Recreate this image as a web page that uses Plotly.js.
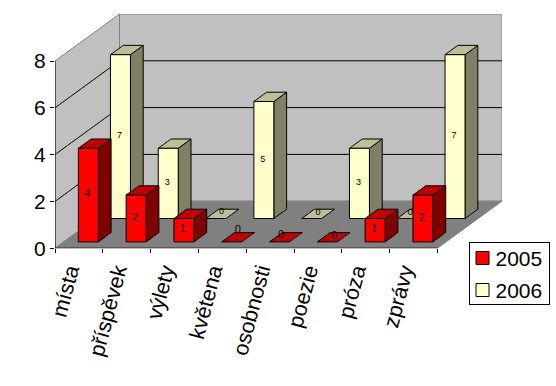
<!DOCTYPE html>
<html>
<head>
<meta charset="utf-8">
<script src="https://cdn.plot.ly/plotly-3.0.1.min.js"></script>
<style>html,body{margin:0;padding:0;background:#fff}</style>
</head>
<body>
<div id="chart" style="width:556px;height:386px"></div>
<script>
const categories = ['místa','příspěvek','výlety','květena','osobnosti','poezie','próza','zprávy'];
const values2005 = [4,2,1,0,0,0,1,2];
const values2006 = [7,3,0,5,0,3,0,7];
const yTicks = [0,2,4,6,8];
const gridValues = [2,4,6];
const FONT = '"Liberation Sans", Arial, sans-serif';

// Oblique projection of the chart box, in axis units
const W = 556, H = 386;
const LEFT = 55, TOP = 14;
const pxX = 47.8, pxY = 23.4, depthX = 64.5, depthY = 47;
const DX = depthX / pxX, DY = depthY / pxY;
const XMAX = 8 + DX, YMAX = 8 + DY;
const BAR_LEFT = 0.3075, BAR_W = 0.418, BAR_D = 0.198;
const pt = (c, v, d) => [c + d * DX, v + d * DY];

const traces = [];
function poly(points, fill, line, lw) {
  const closed = points.concat([points[0]]);
  traces.push({
    type: 'scatter', mode: 'lines', x: closed.map(p => p[0]), y: closed.map(p => p[1]),
    fill: 'toself', fillcolor: fill, line: {color: line, width: lw === undefined ? 1 : lw},
    hoverinfo: 'skip', showlegend: false, cliponaxis: false
  });
}
function seg(points, color) {
  traces.push({
    type: 'scatter', mode: 'lines', x: points.map(p => p[0]), y: points.map(p => p[1]),
    line: {color: color, width: 1}, hoverinfo: 'skip', showlegend: false, cliponaxis: false
  });
}

// Walls and floor
const WALL = '#C0C0C0', EDGE = '#808080';
poly([pt(0,0,0), pt(0,8,0), pt(0,8,1), pt(0,0,1)], WALL, EDGE);
poly([pt(0,0,1), pt(0,8,1), pt(8,8,1), pt(8,0,1)], WALL, EDGE);
poly([pt(0,0,0), pt(8,0,0), pt(8,0,1), pt(0,0,1)], '#808080', EDGE);
gridValues.forEach(v => seg([pt(0,v,0), pt(0,v,1), pt(8,v,1)], '#000'));

function bars(values, d0, front, top, side) {
  values.forEach((v, i) => {
    const a = i + BAR_LEFT, b = a + BAR_W, d1 = d0 + BAR_D;
    if (v > 0) {
      poly([pt(b,0,d0), pt(b,v,d0), pt(b,v,d1), pt(b,0,d1)], side, '#000');
    }
    poly([pt(a,v,d0), pt(b,v,d0), pt(b,v,d1), pt(a,v,d1)], top, '#000');
    if (v > 0) {
      poly([pt(a,0,d0), pt(b,0,d0), pt(b,v,d0), pt(a,v,d0)], front, '#000');
    }
  });
}
function labels(values, d0, size, zeroNudge) {
  let z = 0;
  const xs = [], ys = [];
  values.forEach((v, i) => {
    const p = pt(i + BAR_LEFT + BAR_W / 2, v / 2, d0);
    if (v === 0) { const n = zeroNudge[z++]; xs.push(p[0] + n[0] / pxX); ys.push(p[1] + n[1] / pxY); }
    else { xs.push(p[0] - 1 / pxX); ys.push(p[1] + 0.5 / pxY); }
  });
  traces.push({
    type: 'scatter', mode: 'text', x: xs, y: ys, text: values.map(String),
    textposition: 'middle center', textfont: {family: FONT, size: size, color: '#000'},
    hoverinfo: 'skip', showlegend: false, cliponaxis: false
  });
}

const D_2006 = 0.632, D_2005 = 0.134;
bars(values2006, D_2006, '#FFFFCC', '#BEBE98', '#808066');
labels(values2006, D_2006, 9, [[5.4,6.3],[6.3,5.3],[3,6]]);
bars(values2005, D_2005, '#FF0000', '#BF0000', '#800000');
labels(values2005, D_2005, 11, [[6,11.7],[1.5,6.7],[7,5.7]]);

// Axis lines
seg([pt(0,8,0), pt(0,0,0), pt(8,0,0)], '#000');

// Legend entries
[['2005','#FF0000'],['2006','#FFFFCC']].forEach(([name, color]) => {
  traces.push({
    type: 'scatter', mode: 'markers', x: [null], y: [null], name: name,
    marker: {symbol: 'square', size: 13, color: color, line: {color: '#000', width: 1}},
    hoverinfo: 'skip', showlegend: true
  });
});

const plotW = 8 * pxX + depthX, plotH = 8 * pxY + depthY;
const LABEL_SHIFT = 10 / pxX;
const layout = {
  width: W, height: H, autosize: false,
  paper_bgcolor: '#fff', plot_bgcolor: 'rgba(0,0,0,0)',
  margin: {l: 0, t: 0, r: 0, b: 0, pad: 0, autoexpand: false},
  font: {family: FONT, color: '#000'},
  hovermode: false,
  xaxis: {
    domain: [LEFT / W, (LEFT + plotW) / W],
    range: [0, XMAX], showgrid: false, zeroline: false, showline: false,
    tickmode: 'array', tickvals: categories.map((c, i) => i + 0.5 - LABEL_SHIFT), ticktext: categories,
    tickangle: -75, ticks: '', tickfont: {family: FONT, size: 21.5, color: '#000'}, ticklabelstandoff: 5,
    minor: {tickmode: 'array', tickvals: categories.map((c, i) => i).concat([8]), ticks: 'outside', ticklen: 4, tickcolor: '#000', tickwidth: 1, showgrid: false},
    fixedrange: true
  },
  yaxis: {
    domain: [1 - (TOP + plotH) / H, 1 - TOP / H],
    range: [0, YMAX], showgrid: false, zeroline: false, showline: false,
    tickmode: 'array', tickvals: yTicks, ticktext: yTicks.map(String),
    ticks: 'outside', ticklen: 4, tickcolor: '#000', tickwidth: 1,
    tickfont: {family: FONT, size: 21, color: '#000'}, fixedrange: true
  },
  legend: {
    x: 468.5 / W, xanchor: 'left',
    y: 1 - 241.5 / H, yanchor: 'top',
    bgcolor: '#fff', bordercolor: '#000', borderwidth: 1,
    font: {family: FONT, size: 21, color: '#000'}
  }
};
Plotly.newPlot('chart', traces, layout, {displayModeBar: false, staticPlot: true}).then(() => {
  // Tighten the legend box to the reference's compact proportions
  const root = document.getElementById('chart');
  const bg = root.querySelector('.legend .bg');
  if (bg) { bg.setAttribute('width', 80); bg.setAttribute('height', 62); }
  const rowY = [16.5, 48.5];
  root.querySelectorAll('.legend .traces').forEach((g, k) => {
    g.setAttribute('transform', 'translate(0,' + rowY[k] + ')');
    const text = g.querySelector('.legendtext');
    if (text) text.setAttribute('x', 27);
    const sym = g.querySelector('.legendpoints path');
    if (sym) sym.setAttribute('transform', 'translate(14,0)');
  });
  root.querySelectorAll('.legend clipPath rect').forEach(r => { r.setAttribute('width', 80); r.setAttribute('height', 62); });
});
</script>
</body>
</html>
